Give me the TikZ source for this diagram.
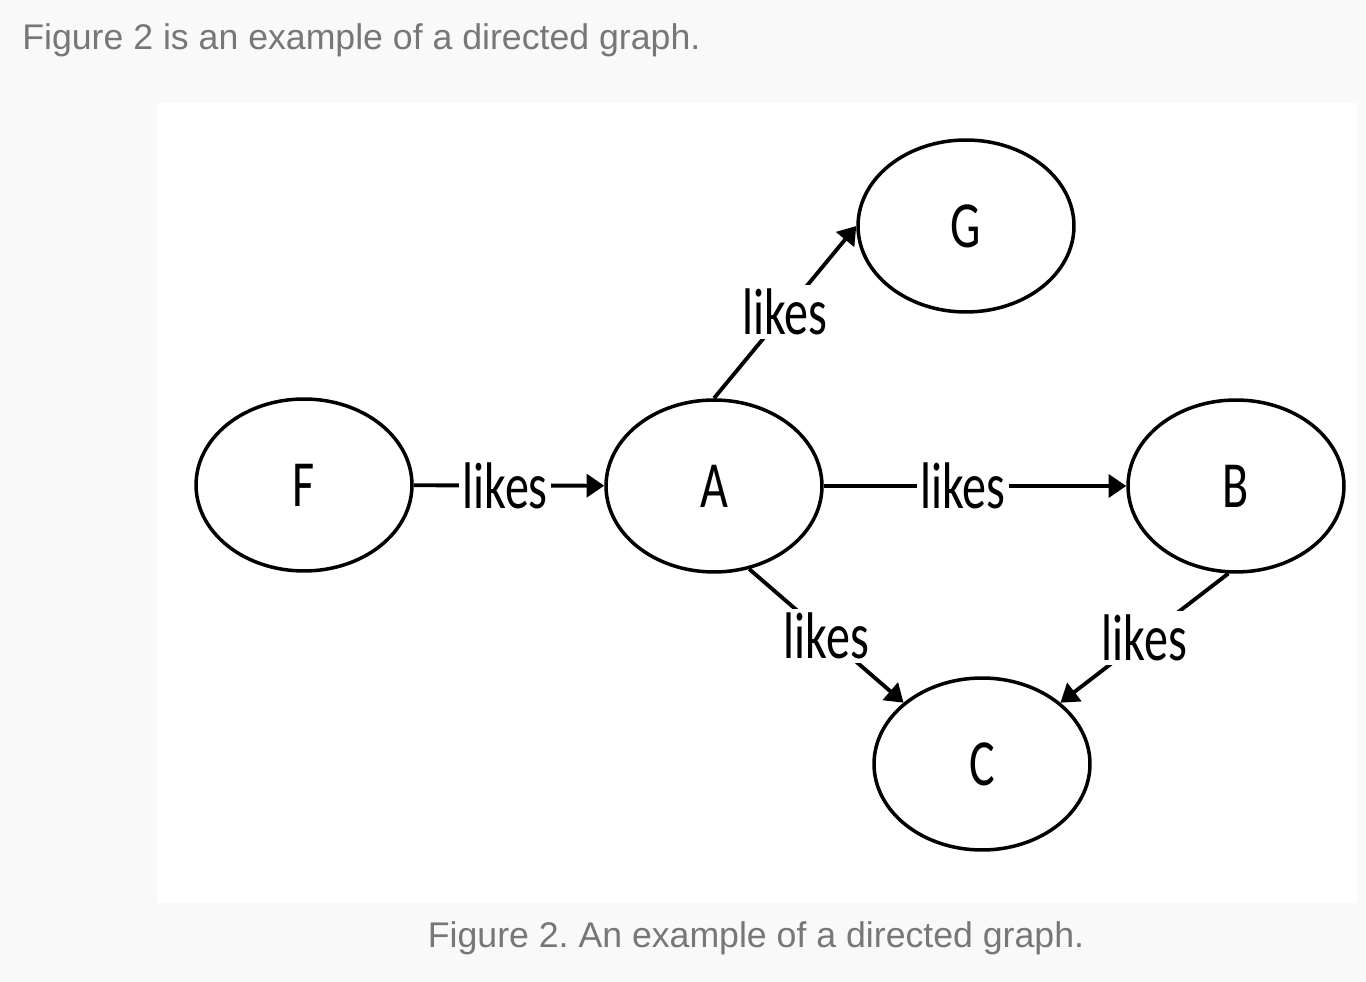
\documentclass[tikz,border=0pt]{standalone}
\usepackage{graphicx}
\usepackage{fontspec}
\usetikzlibrary{shapes.geometric, arrows.meta}
\setmainfont{Liberation Sans}
\newfontfamily\graphfont{Carlito}
\definecolor{pagegray}{HTML}{F9F9F9}
\definecolor{textgray}{HTML}{777777}
\newcommand{\squeeze}[1]{\scalebox{0.73}[1]{#1}}
\frenchspacing

\begin{document}
\begin{tikzpicture}[x=0.02cm, y=-0.02cm,
    vertex/.style={draw, ellipse, line width=2pt, minimum width=4.32cm, minimum height=3.44cm, inner sep=0pt, font=\graphfont\fontsize{37.5}{40}\selectfont},
    edge/.style={-{Triangle[length=10pt, width=13pt]}, line width=2.2pt},
    likes/.style={fill=white, inner sep=2pt, font=\graphfont\fontsize{37.5}{40}\selectfont},
    caption/.style={text=textgray, font=\fontsize{20.3}{24}\selectfont, inner sep=0pt}]
% Page and figure area
\fill[pagegray] (0,0) rectangle (1366,982);
\useasboundingbox (0,0) rectangle (1366,982);
\fill[white] (157,103) rectangle (1357,903);
% Texts
\node[caption, anchor=base west] (intro) at (22,50) {Figure 2 is an example of a directed graph.};
\node[caption, anchor=base] (figcap) at (756,947) {Figure 2. An example of a directed graph.};
% Draw vertices
\node[vertex] (F) at (304,485) {\squeeze{F}};
\node[vertex] (A) at (714,486) {\squeeze{A}};
\node[vertex] (G) at (966,226) {\squeeze{G}};
\node[vertex] (B) at (1236,486) {\squeeze{B}};
\node[vertex] (C) at (982,764) {\squeeze{C}};
% Draw edges
\draw[edge] (F) -- node[likes, pos=0.48]{\squeeze{likes}} (A);
\draw[edge] (A) -- node[likes, pos=0.46]{\squeeze{likes}} (B);
\draw[edge] (A.north) -- node[likes]{\squeeze{likes}} (G.west);
\draw[edge] (A.-67) -- node[likes]{\squeeze{likes}} (C.142);
\draw[edge] (B.-95) -- node[likes]{\squeeze{likes}} (C.38);
\end{tikzpicture}
\end{document}
